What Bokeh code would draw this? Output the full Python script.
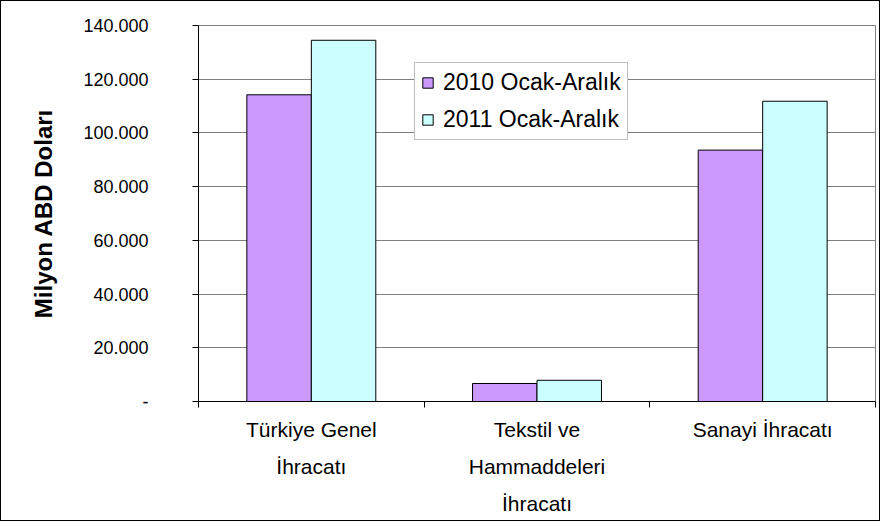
from bokeh.plotting import figure
from bokeh.models import Range1d, FixedTicker, Legend, LegendItem, ColumnDataSource
from bokeh.embed import file_html
from bokeh.resources import INLINE

categories = ["Türkiye Genel\nİhracatı", "Tekstil ve\nHammaddeleri\nİhracatı", "Sanayi İhracatı"]
series_names = ["2010 Ocak-Aralık", "2011 Ocak-Aralık"]
values_2010 = [114200, 6700, 93600]
values_2011 = [134500, 7900, 111800]
y_ticks = [0, 20000, 40000, 60000, 80000, 100000, 120000, 140000]
y_tick_labels = ["-", "20.000", "40.000", "60.000", "80.000", "100.000", "120.000", "140.000"]

colors = ["#CC99FF", "#CCFFFF"]
bar_w = 1 / 3.5

n = len(categories)
centers = [i + 0.5 for i in range(n)]
src10 = ColumnDataSource(dict(x=[c - bar_w / 2 for c in centers], top=values_2010))
src11 = ColumnDataSource(dict(x=[c + bar_w / 2 for c in centers], top=values_2011))

p = figure(width=880, height=521, output_backend="svg", toolbar_location=None,
           x_range=Range1d(0, n), y_range=Range1d(0, 140000),
           min_border_left=197, min_border_right=6, min_border_top=24, min_border_bottom=121)
p.styles = {"border": "1px solid black"}
p.background_fill_color = "white"
p.border_fill_color = "white"
p.outline_line_color = "#808080"
p.outline_line_width = 1

r10 = p.vbar(x="x", top="top", width=bar_w, source=src10, fill_color=colors[0], line_color="black", line_width=1)
r11 = p.vbar(x="x", top="top", width=bar_w, source=src11, fill_color=colors[1], line_color="black", line_width=1)

# grid
p.xgrid.grid_line_color = None
p.ygrid.grid_line_color = "#808080"
p.ygrid.ticker = FixedTicker(ticks=y_ticks)

# y axis
ya = p.yaxis[0]
ya.ticker = FixedTicker(ticks=y_ticks)
ya.major_label_overrides = {t: l for t, l in zip(y_ticks, y_tick_labels)}
ya.axis_label = "Milyon ABD Doları"
ya.axis_label_text_font = "Liberation Sans"
ya.axis_label_text_font_style = "bold"
ya.axis_label_text_font_size = "24px"
ya.axis_label_text_color = "black"
ya.axis_label_standoff = 23
ya.major_label_text_font = "Liberation Sans"
ya.major_label_text_font_size = "18px"
ya.major_label_text_color = "black"
ya.major_label_standoff = 44
ya.major_tick_out = 6
ya.major_tick_in = 0
ya.minor_tick_line_color = None
ya.axis_line_color = "black"
ya.major_tick_line_color = "black"

# x axis
xa = p.xaxis[0]
xa.ticker = FixedTicker(ticks=centers, minor_ticks=list(range(n + 1)))
xa.major_label_overrides = {c: l for c, l in zip(centers, categories)}
xa.major_label_text_font = "Liberation Sans"
xa.major_label_text_font_size = "21px"
xa.major_label_text_color = "black"
xa.major_label_text_line_height = 1.62
xa.major_label_standoff = 10
xa.major_tick_line_color = None
xa.minor_tick_line_color = "black"
xa.minor_tick_out = 6
xa.minor_tick_in = 0
xa.axis_line_color = "black"

legend = Legend(items=[LegendItem(label=series_names[0], renderers=[r10]),
                       LegendItem(label=series_names[1], renderers=[r11])],
                location=(216, 261))
legend.label_text_font = "Liberation Sans"
legend.label_text_font_size = "23px"
legend.label_text_color = "black"
legend.glyph_width = 13
legend.glyph_height = 13
legend.label_height = 13
legend.spacing = 10
legend.padding = 6
legend.margin = 0
legend.label_standoff = 9
legend.border_line_color = "#808080"
legend.border_line_width = 1
legend.background_fill_color = "white"
legend.background_fill_alpha = 1
p.add_layout(legend, "center")

open("out.html", "w").write(file_html(p, INLINE))
